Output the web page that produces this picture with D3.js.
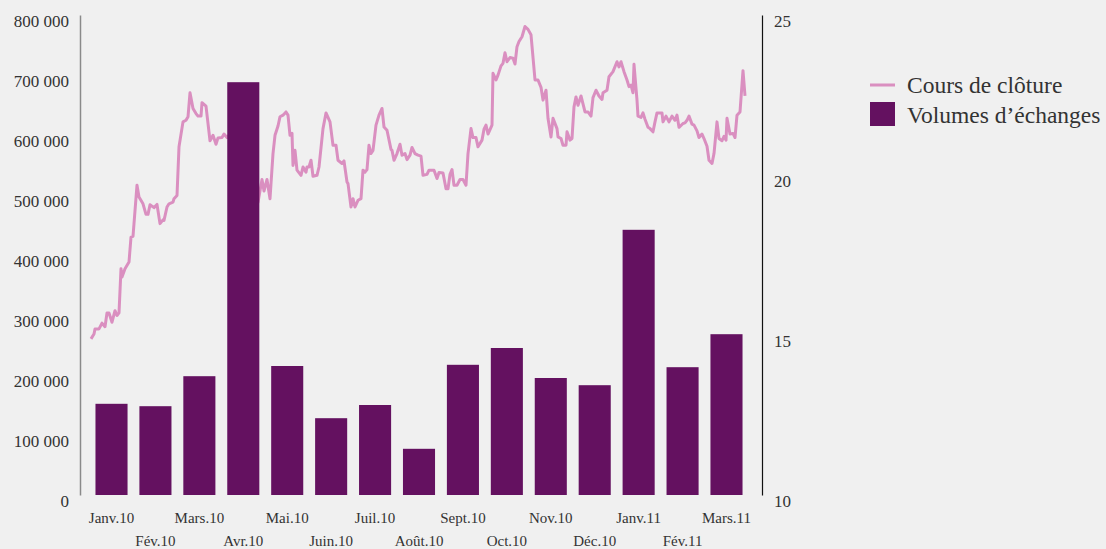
<!DOCTYPE html>
<html lang="fr">
<head>
<meta charset="utf-8">
<title>Cours de clôture et volumes d'échanges</title>
<script src="https://cdn.jsdelivr.net/npm/d3@7"></script>
<style>
  html, body { margin: 0; padding: 0; background: #f0f0f0; }
  svg { display: block; }
</style>
</head>
<body>
<svg id="chart" width="1106" height="549"></svg>
<script>
/* ── Données ───────────────────────────────────────────────────────── */

const mois = ['Janv.10', 'Fév.10', 'Mars.10', 'Avr.10', 'Mai.10', 'Juin.10', 'Juil.10',
  'Août.10', 'Sept.10', 'Oct.10', 'Nov.10', 'Déc.10', 'Janv.11', 'Fév.11', 'Mars.11'];

const volumes = [152000, 148000, 198000, 688000, 215000, 128000, 150000,
  77000, 217000, 245000, 195000, 183000, 442000, 213000, 268000];

const seances = [
  1, 4, 5, 9, 12, 15, 17, 19, 22, 25, 27, 29, 31, 32, 35, 39, 41, 43, 47, 49,
  53, 56, 58, 60, 64, 67, 70, 73, 74, 77, 79, 83, 84, 87, 89, 93, 96, 98, 100, 103,
  106, 108, 111, 112, 116, 120, 123, 126, 128, 132, 134, 137, 139, 143, 146, 148, 150, 153, 157, 162,
  163, 167, 168, 172, 174, 177, 180, 183, 185, 188, 190, 193, 196, 198, 200, 202, 203, 205, 207, 211,
  213, 216, 217, 219, 221, 223, 227, 229, 233, 236, 240, 243, 246, 248, 252, 254, 257, 258, 261, 263,
  265, 268, 271, 273, 275, 277, 279, 281, 283, 286, 289, 292, 294, 297, 301, 302, 304, 307, 310, 312,
  315, 317, 320, 322, 325, 328, 331, 333, 337, 339,
  342, 344, 347, 349, 353, 356, 358, 360, 362, 364, 367, 370, 373, 376, 378, 381, 383, 386, 388, 392,
  394, 396, 398, 402, 403, 406, 408, 411, 413, 415, 417, 420, 423, 425, 427, 429, 432, 435, 438, 441,
  445, 448, 451, 453, 456, 458, 461, 463, 467, 468, 471, 473, 476, 477, 480, 482, 484, 486, 488, 491,
  495, 498, 501, 503, 506, 509, 512, 513, 517, 519, 523, 527, 529, 531, 534, 537, 539, 541, 543, 544,
  547, 548, 551, 553, 555, 558, 560, 563, 565, 567, 572, 573, 576, 579, 582, 585, 587, 589, 593, 595,
  597, 599, 602, 604, 607, 609, 612, 614, 617, 619, 622, 624, 627, 629, 632, 634, 636, 637, 640, 643,
  645, 647, 650, 653, 655
];

const cours = [
  14.88, 15.03, 15.19, 15.19, 15.37, 15.26, 15.69, 15.69, 15.40, 15.76, 15.61, 15.69, 17.07, 16.81, 17.07, 17.28, 18.06, 18.08, 19.68, 19.31,
  19.10, 18.77, 18.77, 19.07, 18.98, 19.08, 18.48, 18.60, 18.58, 19.00, 19.10, 19.15, 19.26, 19.36, 20.88, 21.66, 21.71, 21.82, 22.57, 22.08,
  21.92, 21.84, 21.84, 22.26, 22.15, 21.07, 21.24, 20.96, 21.16, 21.17, 21.28, 21.17, 21.24, 20.98, 20.88, 21.19, 21.00, 21.66, 21.56, 21.49,
  21.03, 19.83, 19.15, 19.86, 19.50, 19.86, 19.26, 20.67, 21.24, 21.53, 21.82, 21.87, 21.97, 21.87, 21.24, 21.30, 20.30, 20.77, 20.15, 19.99,
  20.25, 20.09, 20.25, 20.25, 20.46, 19.96, 19.99, 20.25, 21.45, 21.94, 21.66, 20.93, 20.93, 20.46, 20.36, 20.44, 19.78, 19.73, 19.00, 19.26,
  19.00, 19.21, 19.26, 20.15, 20.09, 20.17, 20.93, 20.67, 20.77, 21.56, 21.87, 22.08, 21.50, 21.40, 20.80, 20.77, 20.46, 20.67, 20.96, 20.62,
  20.67, 20.48, 20.62, 20.86, 20.67, 20.62, 20.59, 19.99, 20.02, 20.15,
  20.15, 20.15, 19.89, 20.08, 20.06, 19.57, 19.57, 20.02, 20.17, 19.68, 19.68, 19.86, 19.86, 19.68, 20.67, 21.45, 21.17, 21.17, 20.88, 21.09,
  21.43, 21.56, 21.28, 21.56, 23.18, 22.97, 23.12, 23.41, 23.49, 23.82, 23.54, 23.67, 23.65, 23.47, 24.01, 24.17, 24.32, 24.64, 24.55, 24.38,
  22.97, 22.97, 22.74, 22.34, 22.65, 21.77, 21.19, 21.77, 21.45, 21.19, 21.14, 20.93, 20.93, 21.35, 21.09, 21.14, 22.13, 22.44, 22.18, 22.47,
  21.97, 21.97, 21.84, 22.42, 22.65, 22.47, 22.36, 22.57, 22.65, 23.07, 23.23, 23.54, 23.38, 23.54, 23.23, 22.97, 22.76, 22.81, 22.57, 23.46,
  22.34, 21.84, 21.80, 21.94, 21.74, 21.49, 21.45, 21.35, 21.66, 21.94, 21.94, 21.66, 21.84, 21.66, 21.84, 21.71, 21.87, 21.49, 21.61, 21.63,
  21.71, 21.84, 21.59, 21.56, 21.38, 21.17, 21.28, 21.14, 20.90, 20.46, 20.36, 20.67, 21.66, 21.14, 21.07, 21.21, 21.09, 21.77, 21.28, 21.30,
  21.17, 21.87, 21.97, 23.26, 22.47
];

const ticksVolume = [0, 100000, 200000, 300000, 400000, 500000, 600000, 700000, 800000];
const ticksCours  = [10, 15, 20, 25];

const legende = [
  { label: 'Cours de clôture',   type: 'line' },
  { label: 'Volumes d\u2019échanges', type: 'rect' },
];

/* ── Mise en page ──────────────────────────────────────────────────── */

const FONT     = 'Liberation Serif';
const COL_TEXT = '#333';
const COL_BAR  = '#641160';
const COL_LINE = '#da8fc0';
const plotTop = 15, plotBottom = 495, plotLeft = 80, plotRight = 762;

const svg = d3.select('#chart').attr('font-family', FONT);

const x = d3.scaleBand()
  .domain(mois)
  .range([83, 755])
  .paddingInner(0.27)
  .paddingOuter(0.284);

const xT = d3.scaleLinear().domain([0, 655]).range([90, 745]);

const yVol = d3.scaleLinear().domain([0, 800000]).range([plotBottom, plotTop]);
const yCours = d3.scaleLinear().domain([10, 25]).range([plotBottom, plotTop]);

const fr = d3.formatLocale({ decimal: ',', thousands: '\u00a0', grouping: [3], currency: ['', ' €'] });

/* ── Axes ──────────────────────────────────────────────────────────── */

const axL = svg.append('g')
  .attr('transform', `translate(${plotLeft},0)`)
  .call(d3.axisLeft(yVol).tickValues(ticksVolume).tickFormat(fr.format(',')).tickSize(0).tickPadding(11))
  .attr('font-family', FONT).attr('font-size', 17);
axL.select('.domain').attr('stroke', '#8a8a8a').attr('stroke-width', 1.5);
axL.selectAll('text').attr('dy', '0.68em').attr('fill', COL_TEXT);

const axR = svg.append('g')
  .attr('transform', `translate(${plotRight},0)`)
  .call(d3.axisRight(yCours).tickValues(ticksCours).tickSize(0).tickPadding(12))
  .attr('font-family', FONT).attr('font-size', 17);
axR.select('.domain').attr('stroke', '#111').attr('stroke-width', 1.2);
axR.selectAll('text').attr('dy', '0.68em').attr('fill', COL_TEXT);

const axB = svg.append('g')
  .attr('transform', `translate(0,${plotBottom})`)
  .call(d3.axisBottom(x).tickSize(0))
  .attr('font-family', FONT).attr('font-size', 15);
axB.select('.domain').remove();
axB.selectAll('text')
  .attr('fill', COL_TEXT)
  .attr('y', (d, i) => i % 2 ? 46 : 23)
  .attr('dy', '0.35em');

/* ── Courbe puis barres (les barres recouvrent la courbe) ─────────── */

const points = seances.map((t, i) => ({ t, v: cours[i] }));

svg.append('path')
  .datum(points)
  .attr('fill', 'none')
  .attr('stroke', COL_LINE)
  .attr('stroke-width', 3)
  .attr('stroke-linejoin', 'round')
  .attr('d', d3.line().x(d => xT(d.t)).y(d => yCours(d.v)));

svg.append('g').selectAll('rect')
  .data(volumes)
  .join('rect')
  .attr('x', (d, i) => x(mois[i]))
  .attr('y', d => yVol(d))
  .attr('width', x.bandwidth())
  .attr('height', d => yVol(0) - yVol(d))
  .attr('fill', COL_BAR);

/* ── Légende ───────────────────────────────────────────────────────── */

const leg = svg.append('g').attr('transform', 'translate(870,0)');
legende.forEach((it, i) => {
  const g = leg.append('g').attr('transform', `translate(0,${i * 30})`);
  if (it.type === 'line') {
    g.append('line').attr('x1', 0).attr('x2', 25).attr('y1', 85).attr('y2', 85)
      .attr('stroke', COL_LINE).attr('stroke-width', 3);
  } else {
    g.append('rect').attr('x', 0).attr('y', 72).attr('width', 25).attr('height', 24)
      .attr('fill', COL_BAR);
  }
  g.append('text').attr('x', 37).attr('y', 93)
    .attr('font-family', FONT)
    .attr('font-size', 23.5).attr('fill', COL_TEXT)
    .text(it.label);
});
</script>
</body>
</html>
